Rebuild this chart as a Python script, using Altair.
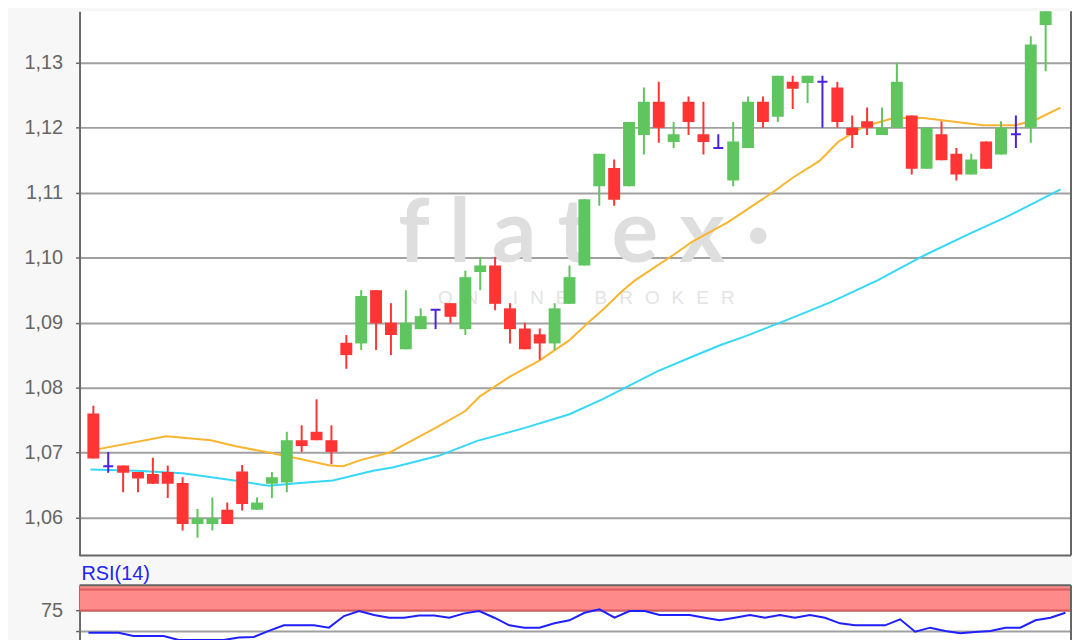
import altair as alt
import pandas as pd

# ---- candle data (index, open, high, low, close) ----
idx = list(range(1, 67))
open_ = [1.0760, 1.0679, 1.0680, 1.0670, 1.0667, 1.0670, 1.0653, 1.0590, 1.0590, 1.0612,
         1.0671, 1.0612, 1.0652, 1.0654, 1.0719, 1.0732, 1.0719, 1.0869, 1.0868, 1.0950,
         1.0900, 1.0859, 1.0890, 1.0920, 1.0930, 1.0890, 1.0978, 1.0988, 1.0922, 1.0891,
         1.0882, 1.0868, 1.0929, 1.0988, 1.1110, 1.1138, 1.1110, 1.1189, 1.1240, 1.1178,
         1.1240, 1.1190, 1.1169, 1.1119, 1.1169, 1.1240, 1.1217, 1.1271, 1.1269, 1.1271,
         1.1262, 1.1200, 1.1210, 1.1189, 1.1200, 1.1219, 1.1137, 1.1190, 1.1160, 1.1128,
         1.1179, 1.1159, 1.1190, 1.1200, 1.1358, 1.1395]
high = [1.0772, 1.0701, 1.0680, 1.0670, 1.0692, 1.0680, 1.0662, 1.0613, 1.0631, 1.0623,
        1.0681, 1.0631, 1.0670, 1.0732, 1.0742, 1.0782, 1.0742, 1.0881, 1.0950, 1.0950,
        1.0930, 1.0950, 1.0922, 1.0920, 1.0930, 1.0980, 1.1001, 1.1001, 1.0930, 1.0900,
        1.0891, 1.0930, 1.0988, 1.1090, 1.1160, 1.1151, 1.1209, 1.1262, 1.1271, 1.1209,
        1.1248, 1.1240, 1.1190, 1.1209, 1.1248, 1.1248, 1.1280, 1.1280, 1.1280, 1.1280,
        1.1271, 1.1219, 1.1231, 1.1231, 1.1300, 1.1219, 1.1200, 1.1210, 1.1169, 1.1160,
        1.1179, 1.1210, 1.1219, 1.1341, 1.1389, 1.1430]
low = [1.0691, 1.0669, 1.0639, 1.0639, 1.0652, 1.0630, 1.0580, 1.0569, 1.0580, 1.0590,
       1.0611, 1.0612, 1.0630, 1.0639, 1.0701, 1.0719, 1.0682, 1.0829, 1.0858, 1.0858,
       1.0850, 1.0859, 1.0890, 1.0890, 1.0899, 1.0881, 1.0950, 1.0919, 1.0868, 1.0859,
       1.0843, 1.0858, 1.0929, 1.0988, 1.1080, 1.1080, 1.1110, 1.1159, 1.1177, 1.1169,
       1.1189, 1.1159, 1.1169, 1.1110, 1.1169, 1.1200, 1.1209, 1.1229, 1.1238, 1.1200,
       1.1200, 1.1169, 1.1189, 1.1189, 1.1200, 1.1128, 1.1137, 1.1150, 1.1119, 1.1128,
       1.1137, 1.1159, 1.1169, 1.1177, 1.1287, 1.1389]
close = [1.0691, 1.0679, 1.0669, 1.0660, 1.0652, 1.0652, 1.0590, 1.0599, 1.0599, 1.0590,
         1.0621, 1.0623, 1.0662, 1.0719, 1.0710, 1.0719, 1.0701, 1.0850, 1.0941, 1.0899,
         1.0881, 1.0900, 1.0910, 1.0920, 1.0909, 1.0970, 1.0988, 1.0929, 1.0890, 1.0859,
         1.0868, 1.0922, 1.0970, 1.1090, 1.1160, 1.1089, 1.1209, 1.1240, 1.1200, 1.1190,
         1.1209, 1.1178, 1.1169, 1.1179, 1.1240, 1.1209, 1.1280, 1.1260, 1.1280, 1.1271,
         1.1209, 1.1189, 1.1200, 1.1200, 1.1271, 1.1137, 1.1200, 1.1150, 1.1128, 1.1151,
         1.1137, 1.1200, 1.1190, 1.1328, 1.1381, 1.1420]

# ---- moving averages (candle index, value) ----
ma_orange_idx = [0.8, 5.9, 8.9, 10.5, 12.8, 14.9, 16.9, 17.8, 18.9, 20.9, 24.0, 26.0, 27.0,
                 29.0, 31.0, 33.0, 34.3, 35.2, 36.6, 37.4, 40.1, 41.2, 43.6, 46.5, 48.0,
                 49.8, 51.1, 52.8, 54.8, 56.8, 58.6, 60.8, 63.0, 64.3, 66.0]
ma_orange_val = [1.0703, 1.0725, 1.0719, 1.0710, 1.0700, 1.0690, 1.0680, 1.0679, 1.0688,
                 1.0700, 1.0738, 1.0764, 1.0787, 1.0817, 1.0842, 1.0873, 1.0901, 1.0919,
                 1.0950, 1.0965, 1.1006, 1.1024, 1.1054, 1.1098, 1.1123, 1.1149, 1.1179,
                 1.1202, 1.1215, 1.1215, 1.1210, 1.1204, 1.1204, 1.1212, 1.1231]
ma_cyan_idx = [0.8, 3.9, 7.0, 10.5, 12.8, 14.9, 17.1, 18.9, 19.8, 21.1, 24.2, 26.8, 30.0,
               33.0, 35.2, 38.9, 41.4, 43.2, 44.7, 47.5, 50.6, 53.7, 56.8, 59.9, 62.3,
               64.3, 66.0]
ma_cyan_val = [1.0674, 1.0672, 1.0668, 1.0657, 1.0649, 1.0653, 1.0657, 1.0667, 1.0672,
               1.0677, 1.0695, 1.0718, 1.0738, 1.0759, 1.0782, 1.0825, 1.0849, 1.0866,
               1.0878, 1.0903, 1.0932, 1.0965, 1.1003, 1.1037, 1.1062, 1.1085, 1.1105]

# ---- RSI(14) ----
rsi_val = [48.3, 48.3, 48.3, 44.4, 44.4, 44.4, 39.6, 39.6, 39.6, 39.6,
           42.4, 43.2, 50.4, 57.1, 57.1, 57.1, 54.3, 68.2, 74.2, 69.4,
           66.2, 66.2, 69.0, 69.0, 66.2, 71.4, 74.2, 66.2, 57.1, 54.3,
           54.3, 59.5, 63.1, 72.1, 76.2, 66.2, 74.2, 74.2, 69.4, 69.4,
           69.4, 66.2, 63.1, 66.2, 69.4, 66.2, 69.4, 66.2, 69.4, 66.2,
           59.5, 57.1, 57.1, 57.1, 64.3, 49.5, 54.3, 50.4, 47.6, 49.0,
           50.4, 54.3, 54.3, 63.1, 66.2, 72.1]

price_ticks = [1.06, 1.07, 1.08, 1.09, 1.10, 1.11, 1.12, 1.13]
rsi_ticks = [50, 75]
band_lo = [75]
band_hi = [105]
band_lines = [75, 100]

GREEN, RED, BLUE = "#5fc55f", "#ff3535", "#4a22d9"
W, H_MAIN, H_RSI = 998, 548, 76
FONT = "Liberation Sans"
GRID = "#a0a0a0"

kind = ["doji" if o == c else ("up" if c > o else "down") for o, c in zip(open_, close)]
df = pd.DataFrame({"i": idx, "open": open_, "high": high, "low": low, "close": close, "kind": kind})

xs = alt.Scale(domain=[0.405, 66.37], nice=False, zero=False)
ys = alt.Scale(domain=[1.054147, 1.137952], nice=False, zero=False)
color = alt.Color("kind:N", scale=alt.Scale(domain=["up", "down", "doji"], range=[GREEN, RED, BLUE]), legend=None)

yaxis = alt.Axis(values=price_ticks, labelExpr="replace(format(datum.value, '.2f'), '.', ',')",
                 title=None, tickSize=4, tickColor="#666", tickWidth=1.5, domainColor="#6a6a6a",
                 domainWidth=2, gridColor=GRID, gridWidth=2, labelFontSize=20,
                 labelColor="#666", labelFont=FONT, labelPadding=13, minExtent=72, maxExtent=72)

base = alt.Chart(df)
X = alt.X("i:Q", scale=xs, axis=None)

wm_df = pd.DataFrame({"t": ["f\u00a0l\u00a0a\u00a0t\u00a0e\u00a0x\u00a0\u00b7"]})
wm = alt.Chart(wm_df).mark_text(font="Lato", fontSize=88, fontWeight="bold", color="#dedede", align="center",
                                baseline="alphabetic").encode(x=alt.value(508), y=alt.value(253), text="t:N")
sp = "\u00a0\u00a0\u200a"
wm2_df = pd.DataFrame({"t": [sp.join("ONLINE") + "\u00a0\u00a0\u00a0\u00a0\u00a0" + sp.join("BROKER")]})
wm2 = alt.Chart(wm2_df).mark_text(font=FONT, fontSize=19, color="#e4e4e4", align="center",
                                  baseline="alphabetic").encode(x=alt.value(510), y=alt.value(295), text="t:N")

grid_layer = alt.Chart(pd.DataFrame({"v": price_ticks})).mark_rule(opacity=0).encode(
    y=alt.Y("v:Q", scale=ys, axis=yaxis))

wicks = base.mark_rule(strokeWidth=2, clip=True).encode(x=X, y=alt.Y("low:Q", scale=ys), y2="high:Q", color=color)
bodies = base.transform_filter("datum.kind != 'doji'").mark_bar(size=12, clip=True).encode(
    x=X, y=alt.Y("open:Q", scale=ys), y2="close:Q", color=color)
doji = base.transform_filter("datum.kind == 'doji'").mark_bar(size=10, clip=True, stroke=BLUE, strokeWidth=2, fill=BLUE).encode(
    x=X, y=alt.Y("open:Q", scale=ys), y2="close:Q")

ma_o = alt.Chart(pd.DataFrame({"i": ma_orange_idx, "v": ma_orange_val})).mark_line(
    color="#f7b530", strokeWidth=2, clip=True).encode(x=alt.X("i:Q", scale=xs, axis=None), y=alt.Y("v:Q", scale=ys))
ma_c = alt.Chart(pd.DataFrame({"i": ma_cyan_idx, "v": ma_cyan_val})).mark_line(
    color="#36d8f8", strokeWidth=2, clip=True).encode(x=alt.X("i:Q", scale=xs, axis=None), y=alt.Y("v:Q", scale=ys))

one = pd.DataFrame({"a": [0]})
border_main = alt.Chart(one).mark_rule(color="#666", strokeWidth=2).encode(
    x=alt.value(0), x2=alt.value(W), y=alt.value(H_MAIN))
border_main_r = alt.Chart(one).mark_rule(color="#666", strokeWidth=2).encode(
    x=alt.value(W), y=alt.value(0), y2=alt.value(H_MAIN))

main = alt.layer(grid_layer, wm, wm2, ma_c, ma_o, wicks, bodies, doji, border_main, border_main_r).properties(
    width=W, height=H_MAIN)

# RSI panel
rys = alt.Scale(domain=[14.5, 105], nice=False, zero=False)
raxis = alt.Axis(values=rsi_ticks, labelExpr="datum.value == 75 ? '75' : ''", title=None, tickSize=4,
                 tickColor="#666", tickWidth=1.5, domainColor="#6a6a6a", domainWidth=2,
                 gridColor=GRID, gridWidth=2, labelFontSize=20, labelColor="#666",
                 labelFont=FONT, labelPadding=13, minExtent=72, maxExtent=72)
rsi_df = pd.DataFrame({"i": idx, "rsi": rsi_val})
band = alt.Chart(pd.DataFrame({"lo": band_lo, "hi": band_hi})).mark_rect(color="#ff8a8a", clip=True).encode(
    x=alt.value(0), x2=alt.value(W), y=alt.Y("lo:Q", scale=rys, axis=raxis), y2="hi:Q")
band_l = alt.Chart(pd.DataFrame({"v": band_lines})).mark_rule(color="#d85c5c", strokeWidth=2, clip=True).encode(
    y=alt.Y("v:Q", scale=rys))
rsi_line = alt.Chart(rsi_df).mark_line(color="#1f1fff", strokeWidth=2, clip=True).encode(
    x=alt.X("i:Q", scale=xs, axis=None), y=alt.Y("rsi:Q", scale=rys))
border_rsi_t = alt.Chart(one).mark_rule(color="#666", strokeWidth=2).encode(
    x=alt.value(0), x2=alt.value(W), y=alt.value(0))
border_rsi_r = alt.Chart(one).mark_rule(color="#666", strokeWidth=2).encode(
    x=alt.value(W), y=alt.value(0), y2=alt.value(H_RSI))

rsi = alt.layer(band, band_l, rsi_line, border_rsi_t, border_rsi_r).properties(
    width=W, height=H_RSI,
    title=alt.TitleParams("RSI(14)", anchor="start", frame="group", fontSize=20, font=FONT,
                          fontWeight="normal", color="#2424f0", offset=0, dx=2))

chart = alt.vconcat(main, rsi, spacing=8).properties(
    background="#f7f7f7", padding=0
).configure_view(stroke=None, fill="white")

chart.save("out.html", embed_options={"renderer": "svg", "actions": False})
